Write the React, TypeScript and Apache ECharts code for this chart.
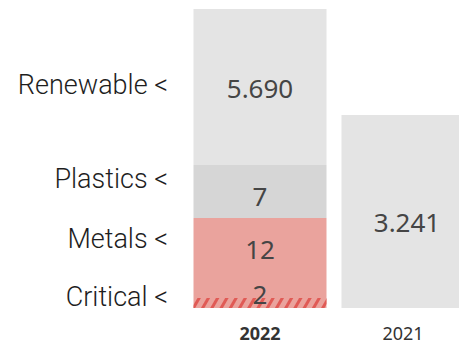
import React, { useEffect, useRef } from "react";
import * as echarts from "echarts";

const years = ["2022", "2021"];
const segmentNames = ["Critical", "Metals", "Plastics", "Renewable"];
// visual segment heights of the 2022 bar (in axis units)
const segmentHeights2022 = [10, 80, 53, 156];
const segmentLabels2022 = ["2", "12", "7", "5.690"];
const segmentColors = ["#eaa39d", "#eaa39d", "#d6d6d6", "#e4e4e4"];
const labelOffsets2022 = [-9, -9, 4, 1];
const height2021 = 193;
const label2021 = "3.241";
const sideLabelNames = ["Renewable <", "Plastics <", "Metals <", "Critical <"];
const sideLabelLevels = [223, 129, 69, 11];

export default function App() {
  const ref = useRef<HTMLDivElement>(null);
  useEffect(() => {
    if (!ref.current) return;
    const chart = echarts.init(ref.current, null, { renderer: "svg" });
    const valueFont = {
      fontFamily: "Noto Sans",
      fontSize: 26,
      color: "#454545",
    };
    const series: any[] = segmentNames.map((name, i) => ({
      name,
      type: "bar",
      stack: "total",
      barWidth: 133,
      silent: true,
      itemStyle: {
        color: segmentColors[i],
        decal:
          i === 0
            ? {
                symbol: "rect",
                symbolSize: 1,
                color: "#e05a55",
                dashArrayX: [3, 5],
                dashArrayY: [40, 0],
                rotation: Math.PI / 6,
              }
            : undefined,
      },
      label: {
        show: true,
        position: "inside",
        offset: [0, labelOffsets2022[i]],
        formatter: () => segmentLabels2022[i],
        ...valueFont,
      },
      data: [segmentHeights2022[i], "-"],
    }));
    series.push({
      name: "2021",
      type: "bar",
      stack: "total",
      barWidth: 133,
      silent: true,
      itemStyle: { color: "#e4e4e4" },
      label: {
        show: true,
        position: "inside",
        offset: [-1, 10],
        formatter: () => label2021,
        ...valueFont,
      },
      data: ["-", height2021],
    });
    chart.setOption({
      animation: false,
      grid: { left: 186, top: 8, width: 296, bottom: 37, outerBoundsMode: "none" },
      xAxis: {
        type: "category",
        data: years,
        axisLine: { show: false },
        axisTick: { show: false },
        axisLabel: {
          margin: 16,
          formatter: (v: string, i: number) => (i === 0 ? `{b|${v}}` : `{n|${v}}`),
          rich: {
            b: { fontFamily: "Noto Sans", fontSize: 18, fontWeight: "bold", color: "#333" },
            n: { fontFamily: "Noto Sans", fontSize: 18, color: "#333", padding: [0, 10, 0, 0] },
          },
        },
      },
      yAxis: {
        type: "value",
        min: 0,
        max: 300,
        axisLine: { show: false },
        axisTick: { show: false },
        splitLine: { show: false },
        axisLabel: {
          customValues: sideLabelLevels,
          margin: 18,
          fontFamily: "Roboto",
          fontWeight: 300,
          fontSize: 27,
          color: "#1e1e1e",
          formatter: (v: number) => {
            const idx = sideLabelLevels.indexOf(v);
            return idx >= 0 ? sideLabelNames[idx] : "";
          },
        },
      },
      series,
    });
    return () => chart.dispose();
  }, []);
  return (
    <div
      ref={ref}
      style={{ position: "fixed", left: 0, top: 0, width: 459, height: 345, background: "#fff" }}
    />
  );
}
